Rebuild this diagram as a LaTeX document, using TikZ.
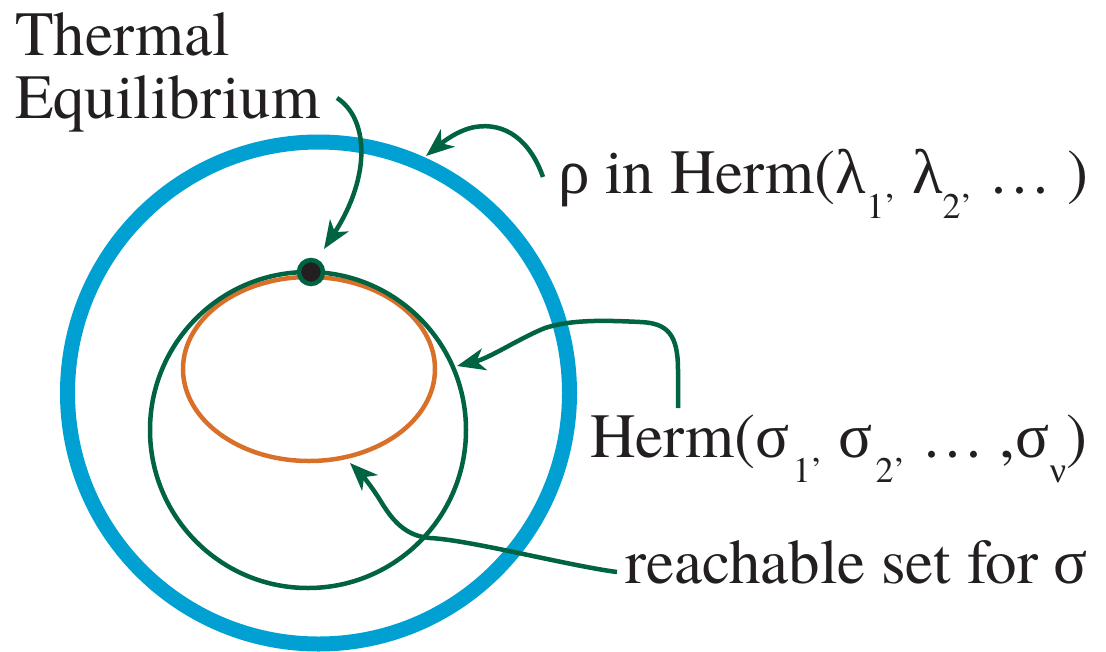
\documentclass[tikz,border=0pt]{standalone}
\usepackage{fontspec}
\setmainfont{texgyretermes}[Extension=.otf, UprightFont=*-regular, BoldFont=*-bold, ItalicFont=*-italic, BoldItalicFont=*-bolditalic]
\newfontfamily\grk{Liberation Serif}
\usetikzlibrary{arrows.meta}
\definecolor{ringblue}{RGB}{0,160,210}
\definecolor{dkgreen}{RGB}{0,99,65}
\definecolor{orng}{RGB}{217,112,41}
\definecolor{dotblack}{RGB}{35,31,32}
\newcommand{\sbx}[1]{\raisebox{-25pt}{\fontsize{36}{36}\selectfont #1}}
\newcommand{\gk}[1]{{\grk #1}}
\begin{document}
\begin{tikzpicture}[x=1pt,y=-1pt,
  lbl/.style={inner sep=0pt, anchor=base west, font=\fontsize{63}{63}\selectfont, text=dotblack},
  pointer/.style={draw=dkgreen, line width=4.5pt, -{Stealth[length=28pt,width=22pt,inset=8pt]}},
]
\useasboundingbox (0,0) rectangle (1106,651);
\draw[ringblue, line width=15pt] (318.5,393) circle[radius=251pt];
\draw[orng, line width=4.5pt] (309,369) ellipse[x radius=126pt, y radius=92pt];
\draw[dkgreen, line width=4.5pt] (308,430) circle[radius=158pt];
\node[circle, fill=dotblack, draw=dkgreen, line width=4.5pt, minimum size=24pt, inner sep=0pt] (eq) at (311,272) {};

\node[lbl] (th1) at (15,55) {Thermal};
\node[lbl] (th2) at (15,118) {Equilibrium};
\node[lbl] (rho) at (558,193) {\gk{ρ} in Herm(\gk{λ}\sbx{1’} \gk{λ}\sbx{2’} … )};
\node[lbl] (herm) at (590,457) {Herm(\gk{σ}\kern3pt\sbx{1’} \gk{σ}\kern3pt\sbx{2’} … ,\gk{σ}\sbx{\gk{ν}})};
\node[lbl] (reach) at (625,583) {reachable set for \gk{σ}};

\coordinate (thS) at (337,98);
\coordinate (thT) at (324,249);
\coordinate (rhoS) at (543,177);
\coordinate (rhoT) at (426,156);
\coordinate (hS) at (678,408);
\coordinate (hT) at (457,366);
\coordinate (rS) at (617,572);
\coordinate (rT) at (350,463);

\draw[pointer] (thS) .. controls (368,118) and (372,175) .. (thT);
\draw[pointer] (rhoS) .. controls (530,140) and (505,122) .. (475,127)
   .. controls (458,130) and (443,142) .. (rhoT);
\draw[pointer] (hS) -- (678,370) .. controls (678,335) and (668,323) .. (640,322)
   .. controls (600,320) and (570,320) .. (545,328)
   .. controls (520,338) and (490,358) .. (hT);
\draw[pointer] (rS) .. controls (570,566) and (470,540) .. (430,538)
   .. controls (405,536) and (392,520) .. (380,500)
   .. controls (372,487) and (362,475) .. (rT);
\end{tikzpicture}
\end{document}
